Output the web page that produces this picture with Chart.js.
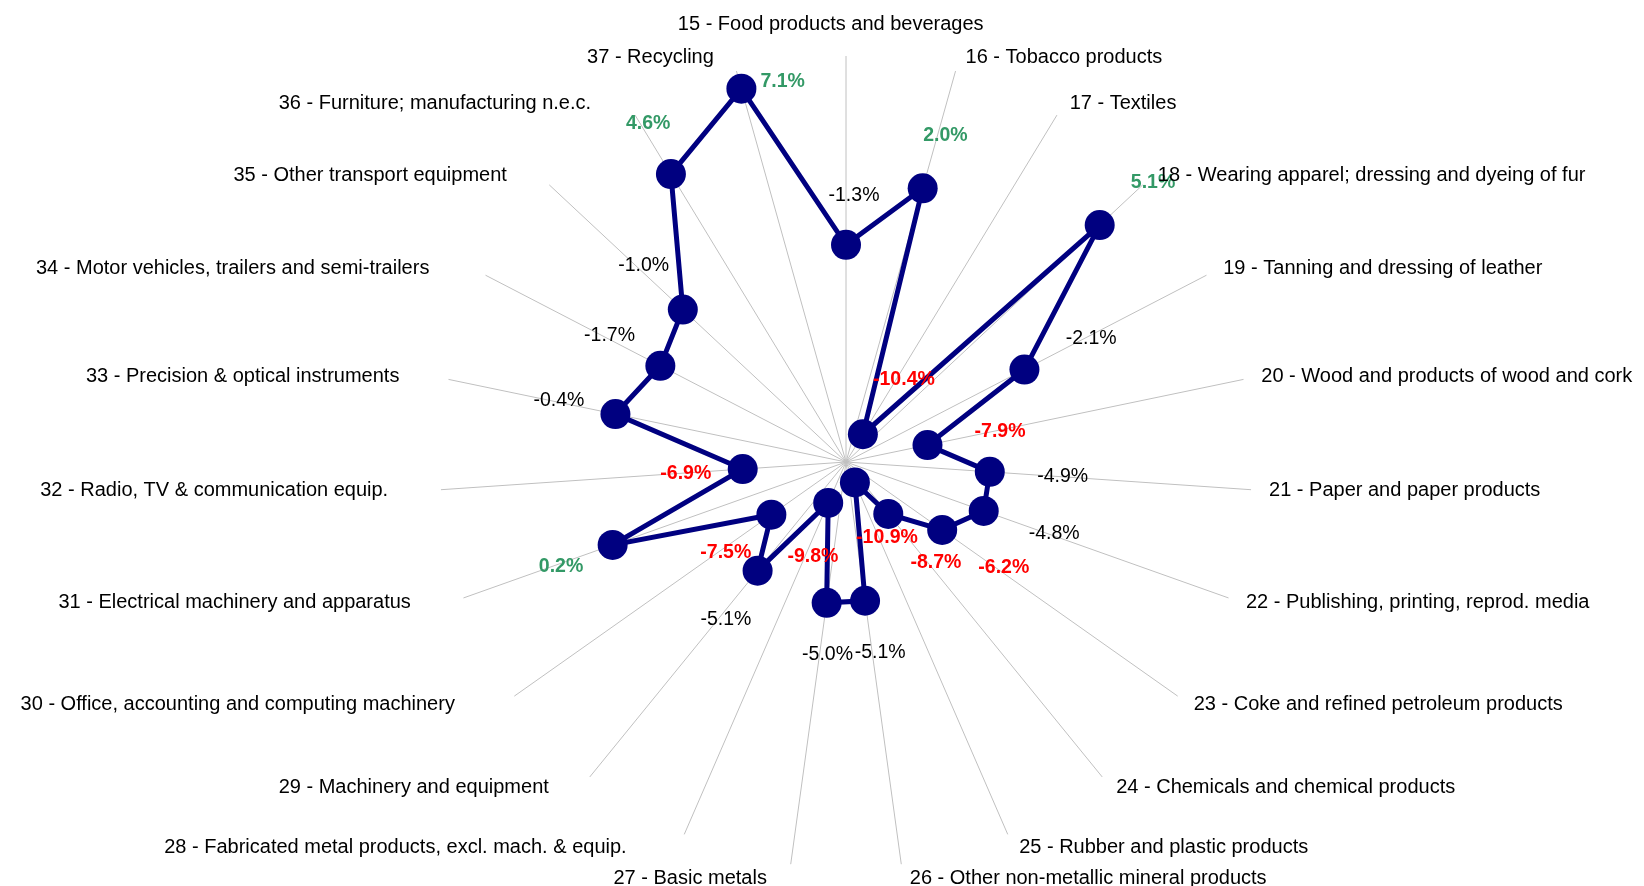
<!DOCTYPE html>
<html>
<head>
<meta charset="utf-8">
<title>Growth by manufacturing sector</title>
<script src="https://cdn.jsdelivr.net/npm/chart.js@4.4.1/dist/chart.umd.min.js"></script>
<style>
  html, body { margin: 0; padding: 0; background: #fff; }
  #wrap { width: 1644px; height: 886px; }
</style>
</head>
<body>
<div id="wrap"><canvas id="radar" width="1644" height="886"></canvas></div>
<script>
const sectors = [
  "15 - Food products and beverages",
  "16 - Tobacco products",
  "17 - Textiles",
  "18 - Wearing apparel; dressing and dyeing of fur",
  "19 - Tanning and dressing of leather",
  "20 - Wood and products of wood and cork",
  "21 - Paper and paper products",
  "22 - Publishing, printing, reprod. media",
  "23 - Coke and refined petroleum products",
  "24 - Chemicals and chemical products",
  "25 - Rubber and plastic products",
  "26 - Other non-metallic mineral products",
  "27 - Basic metals",
  "28 - Fabricated metal products, excl. mach. & equip.",
  "29 - Machinery and equipment",
  "30 - Office, accounting and computing machinery",
  "31 - Electrical machinery and apparatus",
  "32 - Radio, TV & communication equip.",
  "33 - Precision & optical instruments",
  "34 - Motor vehicles, trailers and semi-trailers",
  "35 - Other transport equipment",
  "36 - Furniture; manufacturing n.e.c.",
  "37 - Recycling"
];

// growth rate per sector, in percent
const growth = [
  -1.3, 2.0, -10.4, 5.1, -2.1, -7.9, -4.9, -4.8, -6.2, -8.7, -10.9, -5.1,
  -5.0, -9.8, -5.1, -7.5, 0.2, -6.9, -0.4, -1.7, -1.0, 4.6, 7.1
];

const scaleMin = -12;
const scaleMax = 8;

const NAVY = "#000080";
const FONT = '"Liberation Sans", Arial, sans-serif';
const NAME_SIZE = 20;
const VALUE_SIZE = 19.5;
const MARKER_R = 15;

function valueColor(v) {
  if (v > 0) return "#339966";
  if (v < -6) return "#ff0000";
  return "#000000";
}

// boxes (cap height only) of the sector names, filled in by the layout pass
let nameBoxes = [];

function layoutNames(chart) {
  const scale = chart.scales.r;
  const ctx = chart.ctx;
  ctx.save();
  ctx.font = NAME_SIZE + "px " + FONT;
  const out = sectors.map((name, i) => {
    const a = scale.getIndexAngle(i);
    const s = Math.sin(a), c = Math.cos(a);
    const end = scale.getPointPosition(i, scale.drawingArea);
    const w = ctx.measureText(name).width;
    const box = w * 1.1;
    let x, y;
    if (Math.abs(s) < 0.01) {
      x = end.x - box / 2;
      y = c > 0 ? end.y - 32 : end.y + 32;
    } else {
      const gap = 7 + 11 * Math.abs(s);
      x = s > 0 ? end.x + gap : end.x - gap - box;
      y = end.y - 14 * c;
    }
    const h = NAME_SIZE * 0.72;
    return { name, x, y, l: x, r: x + w, t: y - h / 2, b: y + h / 2 };
  });
  ctx.restore();
  return out;
}

function overlaps(a, b) {
  return a.l < b.r && a.r > b.l && a.t < b.b && a.b > b.t;
}

// sector names sit just past the end of each spoke
const sectorLabels = {
  id: "sectorLabels",
  beforeDatasetsDraw(chart) {
    nameBoxes = layoutNames(chart);
  },
  afterDraw(chart) {
    const ctx = chart.ctx;
    ctx.save();
    ctx.font = NAME_SIZE + "px " + FONT;
    ctx.fillStyle = "#000";
    ctx.textAlign = "left";
    ctx.textBaseline = "middle";
    nameBoxes.forEach(b => ctx.fillText(b.name, b.x, b.y));
    ctx.restore();
  }
};

// percentage next to each marker, pushed outwards along its spoke;
// moved to the side of the marker when it would run into another sector's name
const valueLabels = {
  id: "valueLabels",
  afterDatasetsDraw(chart) {
    const scale = chart.scales.r;
    const meta = chart.getDatasetMeta(0);
    const ctx = chart.ctx;
    ctx.save();
    ctx.textAlign = "center";
    ctx.textBaseline = "middle";
    meta.data.forEach((pt, i) => {
      const v = growth[i];
      const text = v.toFixed(1) + "%";
      const bold = v > 0 || v < -6;
      ctx.font = (bold ? "bold " : "") + VALUE_SIZE + "px " + FONT;
      ctx.fillStyle = valueColor(v);
      const a = scale.getIndexAngle(i);
      const s = Math.sin(a), c = Math.cos(a);
      const w = ctx.measureText(text).width;
      const h = VALUE_SIZE * 0.72;
      const d = MARKER_R + 24 + Math.abs(s) * w / 2 + Math.abs(c) * 10;
      const candidates = [
        { x: pt.x + s * d + 8, y: pt.y - c * d },
        { x: pt.x + MARKER_R + 4 + w / 2, y: pt.y - 7 },
        { x: pt.x - MARKER_R - 4 - w / 2, y: pt.y - 7 }
      ];
      const free = candidates.find(p => {
        const box = { l: p.x - w / 2, r: p.x + w / 2, t: p.y - h / 2, b: p.y + h / 2 };
        return !nameBoxes.some((nb, j) => j !== i && overlaps(box, nb));
      }) || candidates[0];
      ctx.fillText(text, free.x, free.y);
    });
    ctx.restore();
  }
};

new Chart(document.getElementById("radar"), {
  type: "radar",
  data: {
    labels: sectors,
    datasets: [{
      data: growth,
      borderColor: NAVY,
      borderWidth: 5,
      backgroundColor: NAVY,
      fill: false,
      tension: 0,
      pointRadius: MARKER_R,
      pointHoverRadius: MARKER_R,
      pointBackgroundColor: NAVY,
      pointBorderWidth: 0
    }]
  },
  options: {
    responsive: false,
    animation: false,
    layout: { padding: { top: 56, bottom: 18, left: 48, right: 0 } },
    plugins: {
      legend: { display: false },
      tooltip: { enabled: false }
    },
    scales: {
      r: {
        min: scaleMin,
        max: scaleMax,
        ticks: { display: false },
        grid: { display: false },
        angleLines: { display: true, color: "#c0c0c0", lineWidth: 1 },
        pointLabels: { display: false }
      }
    }
  },
  plugins: [sectorLabels, valueLabels]
});
</script>
</body>
</html>
